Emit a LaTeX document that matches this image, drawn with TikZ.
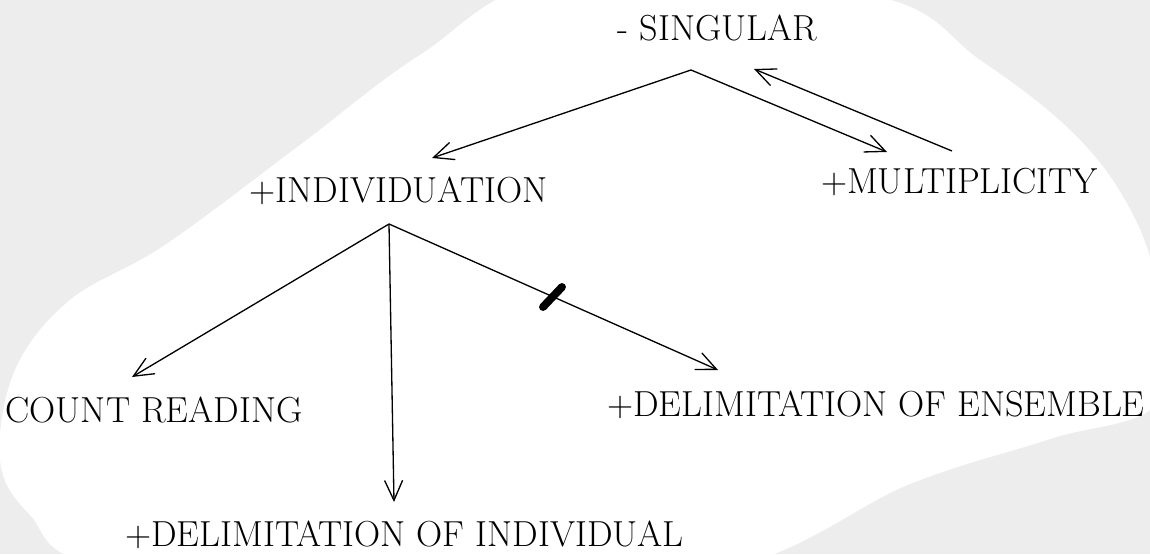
\documentclass[tikz,border=0pt]{standalone}
\usetikzlibrary{arrows.meta}
\begin{document}
\begin{tikzpicture}[font=\fontsize{20.6}{24}\selectfont,
    lbl/.style={inner sep=0pt},
    arr/.style={line width=0.75pt, -{Straight Barb[length=0.4cm, width=0.36cm]}},
    cut/.style={line width=4.5pt, line cap=round}]
    % sheet and the white cut-out
    \useasboundingbox (0,0) rectangle (23,11.08);
    \fill[black!7] (0,0) rectangle (23,11.08);
    \begin{scope}
        \clip (0,0) rectangle (23,11.08);
        \fill[white] plot[smooth cycle, tension=0.6] coordinates {
            (11.2,11.48) (17.4,11.18) (19.6,9.88) (21.4,8.48) (22.5,7.08)
            (23.1,5.48) (23.2,3.08) (21.0,2.30) (18.2,1.40) (14.4,-0.32)
            (8.0,-0.62) (2.0,-0.22) (0.6,0.78) (0.0,1.88) (0.3,3.68)
            (1.4,5.08) (3.3,6.18) (6.0,8.18) (8.4,9.98)};
    \end{scope}
    % features
    \node[lbl] (sing)  at (14.35,10.53) {- SINGULAR};
    \node[lbl] (indiv) at (7.97,7.27)   {+INDIVIDUATION};
    \node[lbl] (mult)  at (19.19,7.43)  {+MULTIPLICITY};
    \node[lbl] (count) at (3.08,2.89)   {COUNT READING};
    \node[lbl] (ens)   at (17.52,2.99)  {+DELIMITATION OF ENSEMBLE};
    \node[lbl] (indl)  at (8.09,0.39)   {+DELIMITATION OF INDIVIDUAL};
    % branching points and arrow ends
    \coordinate (sa)     at (13.82,9.68);
    \coordinate (ia)     at (7.78,6.60);
    \coordinate (to-ind) at (8.64,7.92);
    \coordinate (to-mul) at (17.74,8.04);
    \coordinate (back)   at (19.04,8.06);
    \coordinate (to-sg)  at (15.08,9.70);
    \coordinate (to-cnt) at (2.64,3.54);
    \coordinate (to-idl) at (7.88,1.04);
    \coordinate (to-ens) at (14.36,3.68);
    \draw[arr] (sa) -- (to-ind);
    \draw[arr] (sa) -- (to-mul);
    \draw[arr] (back) -- (to-sg);
    \draw[arr] (ia) -- (to-cnt);
    \draw[arr] (ia) -- (to-idl);
    \draw[arr] (ia) -- (to-ens);
    % blocked path
    \coordinate (c1) at (10.86,4.94);
    \coordinate (c2) at (11.24,5.34);
    \draw[cut] (c1) -- (c2);
\end{tikzpicture}
\end{document}
